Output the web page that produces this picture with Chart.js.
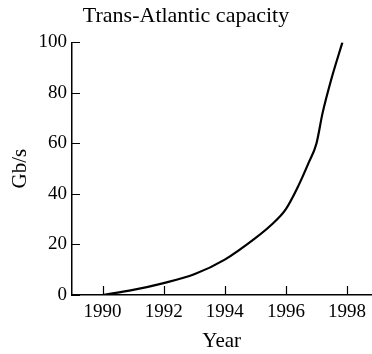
<!DOCTYPE html>
<html lang="en">
<head>
    <meta charset="UTF-8">
    <title>Trans-Atlantic capacity</title>
    <script src="https://cdn.jsdelivr.net/npm/chart.js@4.4.1/dist/chart.umd.min.js"></script>
    <style>
        body {
            margin: 0;
            background: #fff;
        }
        #wrap {
            width: 372px;
            height: 354px;
        }
    </style>
</head>
<body>
    <div id="wrap">
        <canvas id="capChart"></canvas>
    </div>

    <script>
        // values
        const years = [1990, 1991, 1992, 1993, 1994, 1995, 1995.5, 1996, 1996.4, 1996.75, 1997, 1997.2, 1997.5, 1997.85];
        const capacity = [0, 2, 4.7, 8.2, 14, 22.5, 27.5, 34, 43, 52.5, 60, 72, 86, 100];
        const xTicks = [1990, 1992, 1994, 1996, 1998];
        const yTicks = [0, 20, 40, 60, 80, 100];

        const serif = 'Liberation Serif, Times New Roman, serif';

        // short tick marks pointing into the plot
        const innerTicks = {
            id: 'innerTicks',
            afterDraw(chart) {
                const ctx = chart.ctx;
                const area = chart.chartArea;
                const x = chart.scales.x;
                const y = chart.scales.y;
                ctx.save();
                ctx.strokeStyle = '#000';
                ctx.lineWidth = 1.2;
                ctx.beginPath();
                xTicks.forEach(v => {
                    const px = Math.round(x.getPixelForValue(v)) + 0.5;
                    ctx.moveTo(px, area.bottom);
                    ctx.lineTo(px, area.bottom - 9);
                });
                yTicks.forEach(v => {
                    const py = Math.round(y.getPixelForValue(v)) + 0.5;
                    ctx.moveTo(area.left, py);
                    ctx.lineTo(area.left + 8, py);
                });
                ctx.stroke();
                ctx.restore();
            }
        };

        new Chart(document.getElementById('capChart'), {
            type: 'line',
            data: {
                datasets: [{
                    data: years.map((yr, i) => ({ x: yr, y: capacity[i] })),
                    borderColor: '#000',
                    borderWidth: 2.2,
                    pointRadius: 0,
                    fill: false,
                    cubicInterpolationMode: 'monotone'
                }]
            },
            options: {
                responsive: true,
                maintainAspectRatio: false,
                animation: false,
                layout: { padding: 0 },
                scales: {
                    x: {
                        type: 'linear',
                        min: 1989,
                        max: 1998.8,
                        afterBuildTicks: s => { s.ticks = xTicks.map(v => ({ value: v })); },
                        afterFit: s => { s.height = 59; },
                        grid: { display: true, drawOnChartArea: false, drawTicks: false },
                        border: { display: true, color: '#000', width: 1.5 },
                        ticks: {
                            color: '#000',
                            padding: 6,
                            maxRotation: 0,
                            font: { family: serif, size: 19 },
                            callback: v => String(v)
                        },
                        title: {
                            display: true,
                            text: 'Year',
                            color: '#000',
                            font: { family: serif, size: 21 },
                            padding: { top: 4, bottom: 0 }
                        }
                    },
                    y: {
                        min: 0,
                        max: 100,
                        afterBuildTicks: s => { s.ticks = yTicks.map(v => ({ value: v })); },
                        afterFit: s => { s.width = 72; },
                        grid: { display: true, drawOnChartArea: false, drawTicks: false },
                        border: { display: true, color: '#000', width: 1.5 },
                        ticks: {
                            color: '#000',
                            padding: 5,
                            font: { family: serif, size: 19 }
                        },
                        title: {
                            display: true,
                            text: 'Gb/s',
                            color: '#000',
                            font: { family: serif, size: 21 },
                            padding: { top: 8, bottom: 0 }
                        }
                    }
                },
                plugins: {
                    legend: { display: false },
                    tooltip: { enabled: false },
                    title: {
                        display: true,
                        text: 'Trans-Atlantic capacity',
                        color: '#000',
                        font: { family: serif, size: 22, weight: 'normal' },
                        padding: { top: 3, bottom: 13 }
                    }
                }
            },
            plugins: [innerTicks]
        });
    </script>
</body>
</html>
